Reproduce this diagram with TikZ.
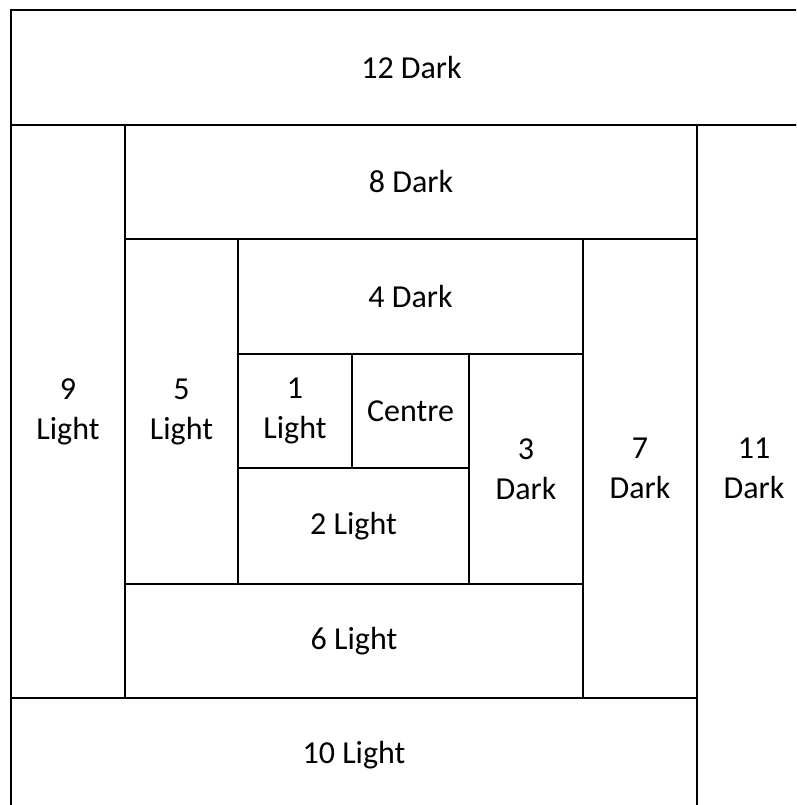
\documentclass[tikz,border=0pt]{standalone}
\usepackage{fontspec}
\setmainfont{Carlito}
\begin{document}
\begin{tikzpicture}[x=1pt,y=-1pt,
	patch/.style={draw,line width=1.7pt,inner sep=0pt,align=center,
		font=\fontsize{32}{40}\selectfont}]
	\useasboundingbox (0,0) rectangle (796,805);
	\clip (0,0) rectangle (796,805);
	% outer round
	\node[patch,minimum width=801pt,minimum height=115pt] (dark12) at (411.5,67.5) {12 Dark};
	\node[patch,minimum width=114pt,minimum height=687pt] (dark11) at (754,468.5) {11\\Dark};
	\node[patch,minimum width=686pt,minimum height=114pt] (light10) at (354,755) {10 Light};
	\node[patch,minimum width=114pt,minimum height=573pt] (light9) at (68,411.5) {9\\Light};
	% middle round
	\node[patch,minimum width=572pt,minimum height=114pt] (dark8) at (411,182) {8 Dark};
	\node[patch,minimum width=114pt,minimum height=459pt] (dark7) at (640,468.5) {7\\Dark};
	\node[patch,minimum width=458pt,minimum height=114pt] (light6) at (354,641) {6 Light};
	\node[patch,minimum width=113pt,minimum height=345pt] (light5) at (181.5,411.5) {5\\Light};
	% inner round
	\node[patch,minimum width=345pt,minimum height=115pt] (dark4) at (410.5,296.5) {4 Dark};
	\node[patch,minimum width=114pt,minimum height=230pt] (dark3) at (526,469) {3\\Dark};
	\node[patch,minimum width=231pt,minimum height=116pt] (light2) at (353.5,526) {2 Light};
	\node[patch,minimum width=114pt,minimum height=114pt] (light1) at (295,411) {1\\Light};
	\node[patch,minimum width=117pt,minimum height=114pt] (centre) at (410.5,411) {Centre};
\end{tikzpicture}
\end{document}
